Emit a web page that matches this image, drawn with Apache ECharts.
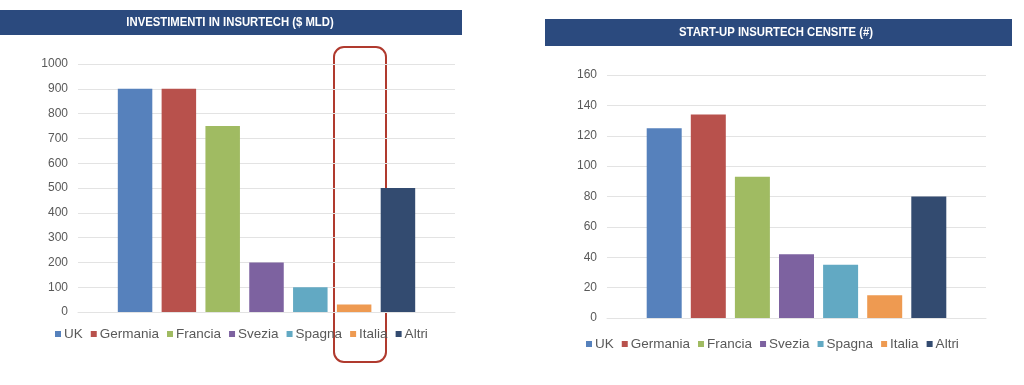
<!DOCTYPE html>
<html><head><meta charset="utf-8">
<script src="https://cdn.jsdelivr.net/npm/echarts@6/dist/echarts.min.js"></script>
<style>html,body{margin:0;padding:0;background:#fff}#c{width:1024px;height:385px}</style>
</head><body><div id="c"></div>
<script>
const countries = ['UK','Germania','Francia','Svezia','Spagna','Italia','Altri'];
const colors = ['#5681BC','#B8514C','#A0BB62','#7D62A0','#62A9C3','#EE9A51','#334B70'];
const investimenti = [900, 900, 750, 200, 100, 30, 500];
const startup = [125, 134, 93, 42, 35, 15, 80];
const title1 = 'INVESTIMENTI IN INSURTECH ($ MLD)';
const title2 = 'START-UP INSURTECH CENSITE (#)';

const chart = echarts.init(document.getElementById('c'));
const lab = {color:'#595959', fontSize:12, fontFamily:'Liberation Sans, Arial, sans-serif', formatter:v=>String(v)};
const series = [];
countries.forEach((c,i)=>{
  series.push({type:'bar', name:c, xAxisIndex:0, yAxisIndex:0, data:[investimenti[i]], barWidth:34.5, barGap:'27%', itemStyle:{color:colors[i]}, silent:true});
});
countries.forEach((c,i)=>{
  series.push({type:'bar', name:c, xAxisIndex:1, yAxisIndex:1, data:[startup[i]], barWidth:35, barGap:'26%', itemStyle:{color:colors[i]}, silent:true});
});
const legendCommon = {icon:'rect', itemWidth:6, itemHeight:6, itemGap:8, selectedMode:false,
  textStyle:{color:'#595959', fontSize:13.5, fontFamily:'Liberation Sans, Arial, sans-serif', padding:[0,0,0,-2]}, data:countries};
const titleFont = 'bold 13px "Liberation Sans", Arial, sans-serif';
chart.setOption({
  animation:false,
  grid:[{left:78, right:569, top:64, bottom:73},{left:607, right:38, top:75, bottom:67}],
  xAxis:[0,1].map(i=>({type:'category', gridIndex:i, data:[''], axisLine:{show:true, lineStyle:{color:'#E3E3E3'}}, axisTick:{show:false}, axisLabel:{show:false}})),
  yAxis:[
    {type:'value', gridIndex:0, min:0, max:1000, interval:100, axisLine:{show:false}, axisTick:{show:false}, axisLabel:Object.assign({margin:10}, lab), splitLine:{lineStyle:{color:'#E3E3E3'}}},
    {type:'value', gridIndex:1, min:0, max:160, interval:20, axisLine:{show:false}, axisTick:{show:false}, axisLabel:Object.assign({margin:10}, lab), splitLine:{lineStyle:{color:'#E3E3E3'}}}
  ],
  legend:[
    Object.assign({left:50, top:322}, legendCommon),
    Object.assign({left:581, top:332}, legendCommon)
  ],
  series:series,
  graphic:[
    {type:'rect', shape:{x:0, y:10, width:462, height:25}, style:{fill:'#2B4A7E'}},
    {type:'text', x:230, y:22.5, scaleX:0.87, style:{text:title1, fill:'#fff', font:titleFont, textAlign:'center', textVerticalAlign:'middle'}},
    {type:'rect', shape:{x:545, y:19, width:467, height:27}, style:{fill:'#2B4A7E'}},
    {type:'text', x:776, y:32.5, scaleX:0.87, style:{text:title2, fill:'#fff', font:titleFont, textAlign:'center', textVerticalAlign:'middle'}},
    {type:'rect', shape:{x:334, y:47, width:52, height:315, r:10}, style:{fill:'none', stroke:'#B03A2E', lineWidth:2}}
  ]
});
</script></body></html>
